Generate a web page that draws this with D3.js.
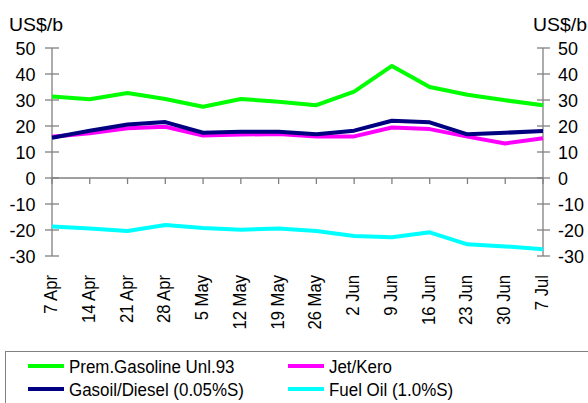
<!DOCTYPE html>
<html>
<head>
<meta charset="utf-8">
<script src="https://cdn.jsdelivr.net/npm/d3@7"></script>
<style>
  html, body { margin: 0; padding: 0; background: #fff; }
  svg { display: block; font-family: "Liberation Sans", Arial, sans-serif; }
</style>
</head>
<body>
<svg id="chart" width="588" height="403"></svg>
<script>
// Weekly product cracks, US$/b
const weeks = ["7 Apr","14 Apr","21 Apr","28 Apr","5 May","12 May","19 May","26 May","2 Jun","9 Jun","16 Jun","23 Jun","30 Jun","7 Jul"];
const gasoline = [31.3, 30.3, 32.7, 30.4, 27.4, 30.4, 29.3, 28.0, 33.2, 43.1, 35.0, 32.0, 29.9, 28.0];
const jetKero  = [15.9, 17.2, 19.1, 19.7, 16.3, 16.7, 16.9, 16.0, 16.0, 19.4, 18.8, 15.9, 13.3, 15.3];
const gasoil   = [15.5, 18.2, 20.6, 21.5, 17.4, 17.8, 17.8, 16.8, 18.2, 22.0, 21.4, 16.8, 17.4, 18.1];
const fuelOil  = [-18.7, -19.4, -20.4, -18.1, -19.2, -19.9, -19.4, -20.4, -22.3, -22.8, -20.9, -25.5, -26.3, -27.4];
const yTicks = [50, 40, 30, 20, 10, 0, -10, -20, -30];

const seriesNames = ["Prem.Gasoline Unl.93", "Jet/Kero", "Gasoil/Diesel (0.05%S)", "Fuel Oil (1.0%S)"];
const seriesColors = ["#00ff00", "#ff00ff", "#000080", "#00ffff"];
const seriesValues = [gasoline, jetKero, gasoil, fuelOil];

const svg = d3.select("#chart");
const axisColor = "#808080";
const fontSize = 18.5;

// Places a text label with a horizontal stretch factor; optional rotation applied first
function label(parent, px, py, str, anchor, stretch, rot) {
  const g = parent.append("g")
    .attr("transform", `translate(${px},${py})${rot ? ` rotate(${rot})` : ""} scale(${stretch},1)`);
  g.append("text").attr("x", 0).attr("y", 0)
    .attr("text-anchor", anchor).attr("font-size", fontSize).attr("fill", "#000").text(str);
  return g;
}

const x = d3.scalePoint().domain(weeks).range([52, 543]);
const y = d3.scaleLinear().domain([-30, 50]).range([256, 48]);

// Left and right value axes with cross ticks
function valueAxis(ax, tickL, tickR, labelX, anchor) {
  const g = svg.append("g");
  g.append("line").attr("x1", ax).attr("x2", ax).attr("y1", y(50)).attr("y2", y(-30))
    .attr("stroke", axisColor).attr("stroke-width", 1.3);
  g.selectAll("line.tick").data(yTicks).join("line").attr("class", "tick")
    .attr("x1", tickL).attr("x2", tickR).attr("y1", d => y(d)).attr("y2", d => y(d))
    .attr("stroke", axisColor).attr("stroke-width", 1.3);
  yTicks.forEach(t => label(g, labelX, y(t) + 6.6, String(t), anchor, 0.97));
}
valueAxis(52, 45, 59, 35.5, "end");
valueAxis(543, 537, 550, 558, "start");

// Zero line with category ticks
svg.append("line").attr("x1", x(weeks[0])).attr("x2", x(weeks[weeks.length - 1]))
  .attr("y1", y(0)).attr("y2", y(0)).attr("stroke", axisColor).attr("stroke-width", 1.3);
svg.append("g").selectAll("line").data(weeks).join("line")
  .attr("x1", d => x(d)).attr("x2", d => x(d))
  .attr("y1", y(0)).attr("y2", y(0) + 6)
  .attr("stroke", axisColor).attr("stroke-width", 1.3);

// Rotated week labels
const wl = svg.append("g");
weeks.forEach(w => label(wl, x(w) + 5, 275, w, "end", 0.9, -90));

// Unit labels
label(svg, 9, 31, "US$/b", "start", 1.05);
label(svg, 533, 31, "US$/b", "start", 1.05);

// Series lines
const line = d3.line().x((d, i) => x(weeks[i])).y(d => y(d));
seriesValues.forEach((vals, i) => {
  svg.append("path").datum(vals).attr("d", line)
    .attr("fill", "none").attr("stroke", seriesColors[i])
    .attr("stroke-width", 4).attr("stroke-linejoin", "round");
});

// Legend
svg.append("rect").attr("x", 5.5).attr("y", 351.5).attr("width", 600).attr("height", 60)
  .attr("fill", "#fff").attr("stroke", axisColor).attr("stroke-width", 1);
const legendPos = [[28, 366], [288, 366], [28, 389], [288, 389]];
seriesNames.forEach((name, i) => {
  const [lx, ly] = legendPos[i];
  svg.append("line").attr("x1", lx).attr("x2", lx + 36).attr("y1", ly).attr("y2", ly)
    .attr("stroke", seriesColors[i]).attr("stroke-width", 4);
  label(svg, lx + 41, ly + 6.6, name, "start", 0.915);
});
</script>
</body>
</html>
